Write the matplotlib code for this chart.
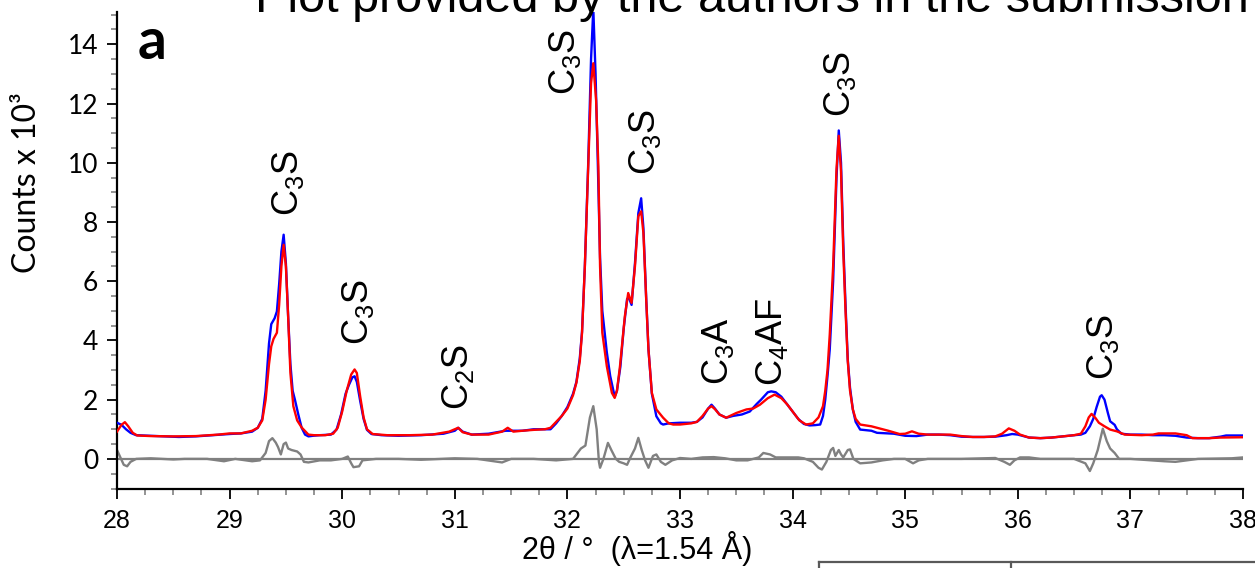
import matplotlib
matplotlib.use("Agg")
import matplotlib.pyplot as plt
from matplotlib.lines import Line2D
from matplotlib.ticker import MultipleLocator

# ---------------- data ----------------
obs_x = [28.00, 28.04, 28.08, 28.12, 28.17, 28.30, 28.45, 28.55, 28.70, 28.85, 29.00, 29.10,
         29.20, 29.25, 29.29, 29.32, 29.35, 29.37, 29.40, 29.42, 29.44, 29.46, 29.48, 29.50,
         29.52, 29.54, 29.56, 29.58, 29.61, 29.64, 29.67, 29.70, 29.74, 29.80, 29.90, 29.95,
         29.99, 30.03, 30.06, 30.09, 30.11, 30.13, 30.16, 30.19, 30.22, 30.26, 30.35, 30.50,
         30.70, 30.90, 31.00, 31.03, 31.07, 31.15, 31.30, 31.45, 31.50, 31.60, 31.70, 31.80,
         31.85, 31.90, 31.95, 32.00, 32.05, 32.08, 32.11, 32.13, 32.155, 32.185, 32.21, 32.23,
         32.25, 32.27, 32.29, 32.31, 32.33, 32.35, 32.38, 32.42, 32.44, 32.47, 32.50, 32.53,
         32.545, 32.57, 32.60, 32.63, 32.655, 32.675, 32.70, 32.72, 32.75, 32.79, 32.83, 32.85,
         32.90, 33.00, 33.10, 33.15, 33.20, 33.25, 33.28, 33.31, 33.35, 33.41, 33.47, 33.55,
         33.62, 33.68, 33.72, 33.78, 33.81, 33.85, 33.90, 33.95, 34.00, 34.05, 34.10, 34.15,
         34.20, 34.245, 34.27, 34.29, 34.31, 34.33, 34.36, 34.39, 34.41, 34.43, 34.45, 34.47,
         34.49, 34.51, 34.535, 34.56, 34.60, 34.70, 34.75, 34.90, 35.00, 35.10, 35.20, 35.30,
         35.40, 35.50, 35.60, 35.70, 35.80, 35.90, 35.95, 36.00, 36.10, 36.20, 36.30, 36.40,
         36.50, 36.56, 36.60, 36.64, 36.67, 36.70, 36.73, 36.745, 36.77, 36.80, 36.82, 36.86,
         36.88, 36.92, 37.00, 37.10, 37.20, 37.30, 37.40, 37.50, 37.60, 37.70, 37.80, 37.85,
         38.00]
obs_y = [1.22, 1.15, 1.00, 0.88, 0.80, 0.78, 0.76, 0.74, 0.76, 0.80, 0.84, 0.86,
         0.92, 1.05, 1.35, 2.30, 3.90, 4.55, 4.75, 4.98, 5.90, 7.00, 7.57, 6.60,
         4.80, 3.20, 2.30, 2.00, 1.50, 1.05, 0.82, 0.76, 0.78, 0.80, 0.82, 0.99,
         1.50, 2.20, 2.50, 2.75, 2.79, 2.60, 1.95, 1.35, 0.98, 0.84, 0.80, 0.78,
         0.80, 0.85, 0.95, 1.05, 0.92, 0.82, 0.85, 0.95, 0.95, 0.95, 1.00, 1.00,
         1.00, 1.20, 1.45, 1.75, 2.20, 2.60, 3.40, 4.30, 6.50, 10.00, 13.50, 15.20,
         13.00, 10.00, 6.80, 5.00, 4.30, 3.60, 2.80, 2.10, 2.30, 3.10, 4.40, 5.40,
         5.45, 5.20, 6.60, 8.30, 8.80, 7.80, 5.40, 3.70, 2.20, 1.44, 1.20, 1.16,
         1.20, 1.22, 1.22, 1.25, 1.40, 1.70, 1.83, 1.70, 1.50, 1.39, 1.45, 1.50,
         1.60, 1.85, 2.00, 2.25, 2.28, 2.25, 2.10, 1.85, 1.60, 1.35, 1.18, 1.13,
         1.14, 1.16, 1.45, 2.00, 2.80, 3.70, 6.00, 9.50, 11.09, 10.00, 7.30, 5.20,
         3.35, 2.40, 1.67, 1.25, 0.99, 0.95, 0.88, 0.85, 0.78, 0.77, 0.82, 0.82,
         0.80, 0.75, 0.74, 0.74, 0.75, 0.80, 0.84, 0.82, 0.72, 0.70, 0.72, 0.76,
         0.80, 0.82, 0.88, 1.10, 1.35, 1.75, 2.10, 2.15, 2.00, 1.55, 1.27, 1.15,
         1.00, 0.85, 0.82, 0.82, 0.80, 0.80, 0.78, 0.72, 0.70, 0.70, 0.75, 0.79,
         0.79]

calc_x = [28.00, 28.04, 28.07, 28.10, 28.14, 28.18, 28.30, 28.50, 28.70, 28.90, 29.00, 29.10,
          29.20, 29.25, 29.29, 29.32, 29.35, 29.37, 29.39, 29.42, 29.44, 29.46, 29.48, 29.50,
          29.52, 29.54, 29.566, 29.60, 29.64, 29.70, 29.75, 29.85, 29.92, 29.96, 30.00, 30.04,
          30.08, 30.11, 30.13, 30.16, 30.19, 30.22, 30.27, 30.40, 30.60, 30.80, 30.95, 31.03,
          31.07, 31.15, 31.30, 31.42, 31.47, 31.52, 31.60, 31.70, 31.80, 31.85, 31.90, 31.95,
          32.00, 32.05, 32.08, 32.11, 32.13, 32.155, 32.185, 32.21, 32.23, 32.255, 32.275, 32.29,
          32.31, 32.35, 32.395, 32.42, 32.44, 32.467, 32.51, 32.54, 32.57, 32.60, 32.63, 32.655,
          32.675, 32.70, 32.72, 32.75, 32.79, 32.85, 32.90, 32.94, 33.00, 33.10, 33.15, 33.20,
          33.25, 33.28, 33.31, 33.35, 33.41, 33.50, 33.59, 33.65, 33.71, 33.78, 33.84, 33.90,
          33.95, 34.01, 34.06, 34.12, 34.18, 34.23, 34.27, 34.29, 34.31, 34.33, 34.36, 34.39,
          34.41, 34.43, 34.45, 34.47, 34.49, 34.51, 34.535, 34.56, 34.60, 34.70, 34.75, 34.85,
          34.95, 35.00, 35.06, 35.12, 35.20, 35.40, 35.50, 35.60, 35.70, 35.80, 35.86, 35.92,
          35.97, 36.02, 36.10, 36.20, 36.30, 36.40, 36.50, 36.56, 36.60, 36.63, 36.655, 36.69,
          36.72, 36.77, 36.82, 36.88, 36.95, 37.10, 37.20, 37.25, 37.40, 37.50, 37.55, 37.70,
          37.80, 38.00]
calc_y = [0.92, 1.15, 1.24, 1.10, 0.88, 0.79, 0.77, 0.76, 0.77, 0.82, 0.86, 0.86,
          0.95, 1.05, 1.30, 2.00, 3.20, 3.80, 4.05, 4.26, 5.20, 6.50, 7.23, 6.50,
          4.80, 2.90, 1.78, 1.30, 1.06, 0.82, 0.80, 0.80, 0.85, 1.05, 1.60, 2.30,
          2.85, 3.02, 2.90, 2.10, 1.40, 1.00, 0.84, 0.80, 0.80, 0.82, 0.92, 1.05,
          0.90, 0.82, 0.82, 0.92, 1.05, 0.92, 0.95, 0.98, 1.00, 1.05, 1.25, 1.45,
          1.70, 2.15, 2.57, 3.30, 4.26, 6.50, 9.87, 12.68, 13.36, 12.10, 9.87, 6.50,
          4.26, 3.13, 2.23, 2.06, 2.30, 3.13, 4.81, 5.60, 5.27, 6.50, 8.19, 8.36,
          7.63, 5.37, 3.69, 2.23, 1.67, 1.39, 1.20, 1.16, 1.16, 1.20, 1.25, 1.45,
          1.70, 1.78, 1.68, 1.50, 1.39, 1.55, 1.67, 1.70, 1.83, 2.05, 2.17, 2.05,
          1.85, 1.55, 1.30, 1.16, 1.20, 1.40, 1.78, 2.30, 3.00, 4.20, 6.50, 9.80,
          10.91, 9.70, 7.00, 5.00, 3.30, 2.30, 1.67, 1.35, 1.16, 1.10, 1.05, 0.95,
          0.84, 0.85, 0.93, 0.85, 0.82, 0.82, 0.77, 0.74, 0.74, 0.76, 0.85, 1.03,
          0.95, 0.82, 0.72, 0.70, 0.72, 0.76, 0.80, 0.85, 1.10, 1.40, 1.52, 1.38,
          1.22, 1.10, 0.99, 0.93, 0.82, 0.80, 0.82, 0.86, 0.86, 0.80, 0.70, 0.70,
          0.72, 0.73]

diff_x = [28.00, 28.03, 28.06, 28.09, 28.12, 28.17, 28.30, 28.50, 28.60, 28.80, 28.95, 29.05,
          29.20, 29.27, 29.32, 29.35, 29.38, 29.41, 29.43, 29.455, 29.48, 29.50, 29.52, 29.55,
          29.60, 29.63, 29.66, 29.70, 29.80, 29.90, 30.00, 30.05, 30.08, 30.10, 30.15, 30.18,
          30.30, 30.50, 30.70, 31.00, 31.20, 31.42, 31.50, 31.70, 31.90, 32.05, 32.12, 32.16,
          32.20, 32.23, 32.26, 32.28, 32.29, 32.32, 32.36, 32.39, 32.43, 32.46, 32.50, 32.53,
          32.56, 32.60, 32.63, 32.66, 32.69, 32.72, 32.76, 32.79, 32.83, 32.87, 32.93, 33.00,
          33.10, 33.20, 33.30, 33.40, 33.50, 33.60, 33.70, 33.74, 33.80, 33.85, 33.95, 34.05,
          34.10, 34.18, 34.23, 34.26, 34.30, 34.34, 34.36, 34.38, 34.41, 34.43, 34.45, 34.49,
          34.51, 34.54, 34.60, 34.70, 34.80, 34.90, 35.00, 35.07, 35.12, 35.20, 35.50, 35.80,
          35.88, 35.93, 35.97, 36.02, 36.10, 36.20, 36.50, 36.60, 36.64, 36.67, 36.71, 36.755,
          36.79, 36.82, 36.86, 36.90, 37.00, 37.30, 37.40, 37.60, 37.90, 38.00]
diff_y = [0.30, 0.05, -0.20, -0.25, -0.10, 0.00, 0.02, -0.02, 0.00, 0.00, -0.08, 0.00,
          -0.08, -0.05, 0.20, 0.60, 0.70, 0.55, 0.40, 0.15, 0.50, 0.55, 0.35, 0.30,
          0.25, 0.15, -0.10, -0.12, -0.05, -0.05, 0.00, 0.08, -0.15, -0.28, -0.25, -0.05,
          0.00, 0.00, -0.03, 0.02, 0.00, -0.12, 0.00, 0.00, -0.05, 0.00, 0.35, 0.45,
          1.40, 1.78, 1.00, -0.10, -0.30, 0.00, 0.54, 0.30, 0.00, -0.10, -0.15, -0.20,
          0.05, 0.35, 0.71, 0.30, -0.05, -0.30, 0.10, 0.15, -0.10, -0.20, -0.05, 0.03,
          0.00, 0.05, 0.06, 0.02, -0.05, -0.05, 0.05, 0.20, 0.15, 0.05, 0.05, 0.05,
          0.02, -0.10, -0.30, -0.36, -0.10, 0.30, 0.37, 0.10, 0.30, 0.15, 0.05, 0.30,
          0.32, 0.00, -0.15, -0.12, -0.05, 0.00, 0.00, -0.15, -0.05, 0.00, 0.00, 0.03,
          -0.10, -0.20, -0.05, 0.05, 0.05, 0.00, 0.00, -0.15, -0.41, -0.15, 0.30, 1.02,
          0.60, 0.35, 0.20, 0.00, 0.00, -0.08, -0.10, 0.00, 0.02, 0.05]

peak_labels = [r"C$_3$S", r"C$_3$S", r"C$_2$S", r"C$_3$S", r"C$_3$S",
               r"C$_3$A", r"C$_4$AF", r"C$_3$S", r"C$_3$S"]
peak_label_x = [29.52, 30.14, 31.03, 31.98, 32.69, 33.34, 33.82, 34.42, 36.76]
peak_label_y = [8.2, 3.85, 1.65, 12.3, 9.6, 2.5, 2.45, 11.55, 2.68]

x_ticks = [28, 29, 30, 31, 32, 33, 34, 35, 36, 37, 38]
y_ticks = [0, 2, 4, 6, 8, 10, 12, 14]

# ---------------- styling ----------------
plt.rcParams['mathtext.fontset'] = 'custom'
plt.rcParams['mathtext.rm'] = 'Liberation Sans'
plt.rcParams['mathtext.it'] = 'Liberation Sans'
plt.rcParams['font.family'] = ['Liberation Sans', 'DejaVu Sans']

W, H = 1255, 568
fig = plt.figure(figsize=(W / 100, H / 100), dpi=100)
ax = fig.add_axes([117 / W, 1 - 488.5 / H, (1243 - 117) / W, (488.5 - 12) / H])

ax.axhline(0, color='#808080', lw=1.6, zorder=1)
ax.plot(diff_x, diff_y, color='#808080', lw=1.7, zorder=2)
ax.plot(obs_x, obs_y, color='#0000ff', lw=1.7, zorder=3)
ax.plot(calc_x, calc_y, color='#ff0000', lw=1.7, zorder=4)

ax.set_xlim(28, 38)
ax.set_ylim(-1, 15.09)

for s in ['top', 'right']:
    ax.spines[s].set_visible(False)
for s in ['left', 'bottom']:
    ax.spines[s].set_linewidth(1.6)
    ax.spines[s].set_color('black')

ax.set_xticks(x_ticks)
ax.set_yticks(y_ticks)
ax.xaxis.set_minor_locator(MultipleLocator(0.25))
ax.yaxis.set_minor_locator(MultipleLocator(0.5))
ax.tick_params(axis='both', which='major', direction='out', length=7.5, width=1.3,
               color='black')
ax.tick_params(axis='both', which='minor', direction='out', length=4, width=1.1,
               color='#777777')
ax.tick_params(axis='x', which='major', labelsize=18, pad=7)
ax.tick_params(axis='y', which='major', labelsize=19, pad=6)
for lab in ax.get_yticklabels():
    lab.set_family(['Lato', 'DejaVu Sans'])

ax.set_xlabel("2θ / °  (λ=1.54 Å)", fontsize=22, va='top')
ax.xaxis.set_label_coords((637 - 117) / 1126, (488.5 - 531) / 476.5)
ax.set_ylabel("Counts x 10³", fontsize=23, family=['Lato', 'DejaVu Sans'], va='center')
ax.yaxis.set_label_coords((27 - 117) / 1126, (488.5 - 183) / 476.5)

for lab, lx, ly in zip(peak_labels, peak_label_x, peak_label_y):
    ax.text(lx, ly, lab, rotation=90, ha='center', va='bottom', fontsize=26, zorder=5)

ax.text((138 - 117) / 1126, (488.5 - 59) / 476.5, "a", transform=ax.transAxes,
        fontsize=41, fontweight='bold', family=['Lato', 'DejaVu Sans'],
        ha='left', va='baseline')

fig.text(0.599, 1 - 12 / H, "Plot provided by the authors in the submission",
         fontsize=35, ha='center', va='baseline', color='black')

# box fragment at the bottom right
box_col = '#595959'
fig.add_artist(Line2D([819 / W, 1.0], [1 - 562 / H, 1 - 562 / H], color=box_col, lw=1.6))
fig.add_artist(Line2D([819 / W, 819 / W], [1 - 562 / H, 0], color=box_col, lw=1.6))
fig.add_artist(Line2D([1011 / W, 1011 / W], [1 - 562 / H, 0], color=box_col, lw=1.6))

fig.savefig("out.png", dpi=100)
